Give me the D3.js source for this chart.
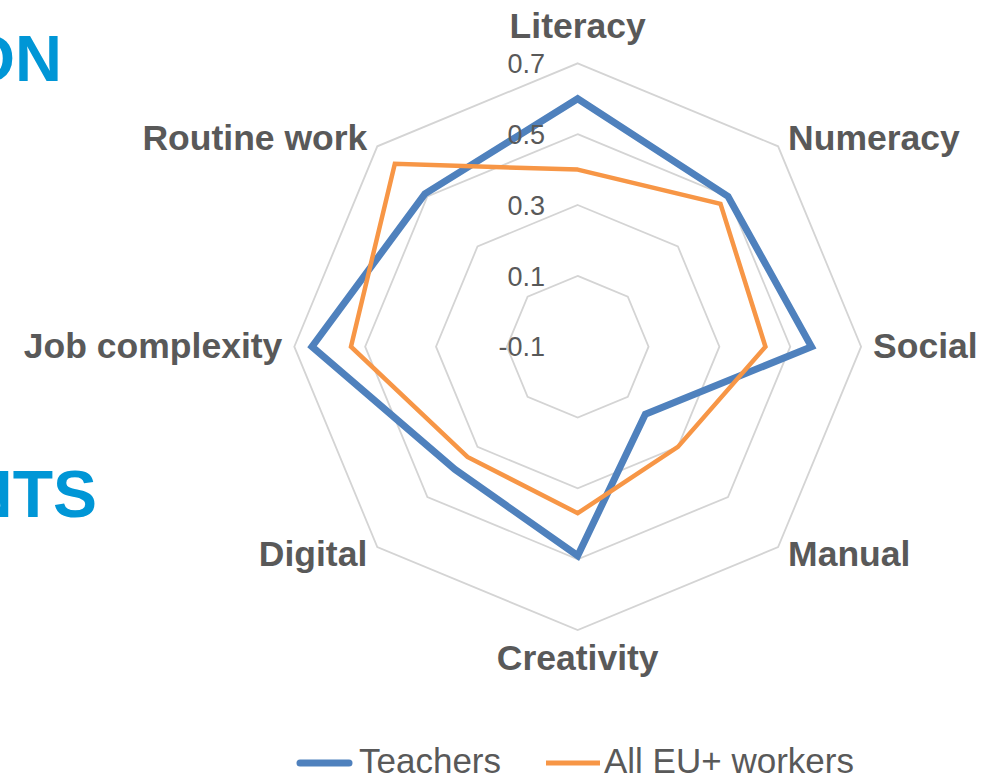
<!DOCTYPE html>
<html>
<head>
<meta charset="utf-8">
<script src="https://cdn.jsdelivr.net/npm/d3@7"></script>
<style>
  html, body { margin: 0; padding: 0; background: #ffffff; }
  svg { display: block; }
</style>
</head>
<body>
<script>
// ---- Data ----
const categories = ["Literacy", "Numeracy", "Social", "Manual", "Creativity", "Digital", "Job complexity", "Routine work"];
const teachers   = [0.60, 0.50, 0.56, 0.17, 0.49, 0.39, 0.65, 0.51];
const allWorkers = [0.40, 0.47, 0.43, 0.30, 0.37, 0.34, 0.54, 0.63];
const tickValues = [-0.1, 0.1, 0.3, 0.5, 0.7];
const tickLabels = ["-0.1", "0.1", "0.3", "0.5", "0.7"];
const seriesNames = ["Teachers", "All EU+ workers"];

// ---- Layout ----
const W = 986, H = 778;
const cx = 577.7, cy = 346.7, R = 283.4;
const blue = "#4f81bd", orange = "#f79646", textGrey = "#595959";
const font = "'Liberation Sans', Arial, sans-serif";

const svg = d3.select("body").append("svg").attr("width", W).attr("height", H);

// partial title text on left (cropped in reference)
svg.append("text").attr("x", 62).attr("y", 81)
  .attr("text-anchor", "end").attr("font-family", font).attr("font-weight", "bold")
  .attr("font-size", 65).attr("fill", "#0096d6").text("ON");
svg.append("text").attr("x", 97).attr("y", 517)
  .attr("text-anchor", "end").attr("font-family", font).attr("font-weight", "bold")
  .attr("font-size", 66).attr("fill", "#0096d6").text("NTS");

const r = d3.scaleLinear().domain([tickValues[0], tickValues[tickValues.length - 1]]).range([0, R]);
const n = categories.length;
const angle = i => i * 2 * Math.PI / n;

const g = svg.append("g").attr("transform", `translate(${cx},${cy})`);

// grid rings
const ringLine = d3.lineRadial().angle((d, i) => angle(i)).radius(d => d).curve(d3.curveLinearClosed);
tickValues.filter(t => r(t) > 0).forEach(t => {
  g.append("path")
    .attr("d", ringLine(categories.map(() => r(t))))
    .attr("fill", "none").attr("stroke", "#d4d4d4").attr("stroke-width", 1.8);
});

// series
const seriesLine = d3.lineRadial().angle((d, i) => angle(i)).radius(d => r(d)).curve(d3.curveLinearClosed);
g.append("path").attr("d", seriesLine(teachers))
  .attr("fill", "none").attr("stroke", blue).attr("stroke-width", 7).attr("stroke-linejoin", "miter");
g.append("path").attr("d", seriesLine(allWorkers))
  .attr("fill", "none").attr("stroke", orange).attr("stroke-width", 4.5).attr("stroke-linejoin", "miter");

// tick labels
tickValues.forEach((t, i) => {
  g.append("text")
    .attr("x", -32.7).attr("y", -r(t) + 9.7)
    .attr("text-anchor", "end").attr("font-family", font).attr("font-size", 27)
    .attr("fill", textGrey).text(tickLabels[i]);
});

// category labels
categories.forEach((c, i) => {
  const a = angle(i);
  const s = Math.sin(a), co = Math.cos(a);
  const vx = R * s, vy = -R * co;
  let x, y, anchor;
  if (Math.abs(s) < 0.01) {
    anchor = "middle"; x = vx;
    y = co > 0 ? vy - 25 : vy + 40;
  } else {
    anchor = s > 0 ? "start" : "end";
    const off = Math.abs(co) < 0.01 ? 12 : 10;
    x = vx + (s > 0 ? off : -off);
    y = vy + 11 - 11 * co;
  }
  g.append("text").attr("x", x).attr("y", y).attr("text-anchor", anchor)
    .attr("font-family", font).attr("font-weight", "bold").attr("font-size", 35.5)
    .attr("fill", textGrey).text(c);
});

// legend
const leg = svg.append("g");
leg.append("line").attr("x1", 300).attr("x2", 349).attr("y1", 763).attr("y2", 763)
  .attr("stroke", blue).attr("stroke-width", 7).attr("stroke-linecap", "round");
leg.append("text").attr("x", 359).attr("y", 773).attr("font-family", font).attr("font-size", 35)
  .attr("fill", textGrey).text(seriesNames[0]);
leg.append("line").attr("x1", 546).attr("x2", 600).attr("y1", 763).attr("y2", 763)
  .attr("stroke", orange).attr("stroke-width", 5);
leg.append("text").attr("x", 604).attr("y", 773).attr("font-family", font).attr("font-size", 35)
  .attr("fill", textGrey).text(seriesNames[1]);
</script>
</body>
</html>
